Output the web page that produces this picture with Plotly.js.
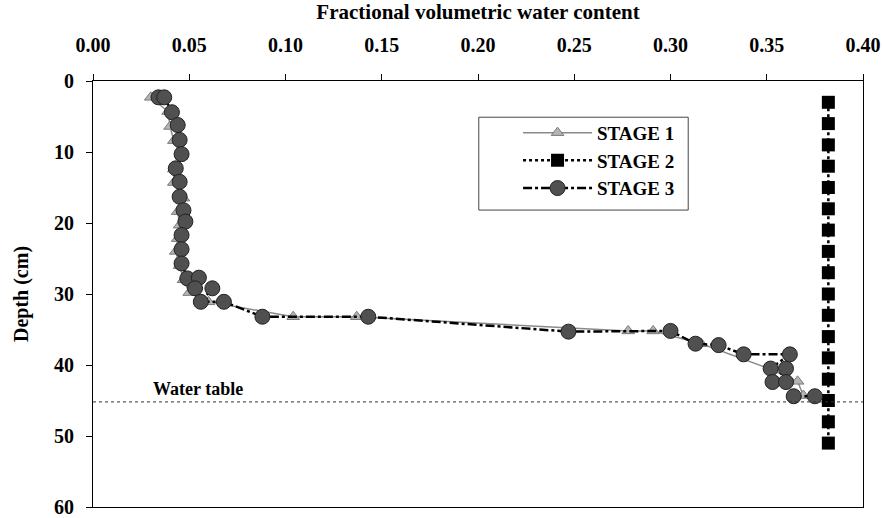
<!DOCTYPE html>
<html>
<head>
<meta charset="utf-8">
<script src="https://cdn.plot.ly/plotly-3.0.1.min.js"></script>
<style>html,body{margin:0;padding:0;background:#fff;}#chart{width:883px;height:518px;}</style>
</head>
<body>
<div id="chart"></div>
<script>
// Stage 1 (triangles)
var stage1Water = [0.030, 0.039, 0.040, 0.042, 0.046, 0.042, 0.042, 0.047, 0.044, 0.045, 0.044, 0.043, 0.045, 0.047, 0.050, 0.060, 0.104, 0.137, 0.278, 0.291, 0.316, 0.353, 0.366, 0.369];
var stage1Depth = [2.3, 4.3, 6.4, 8.4, 10.6, 12.4, 14.3, 16.5, 18.4, 20.3, 22.2, 24.0, 26.0, 28.0, 29.8, 31.1, 33.2, 33.2, 35.2, 35.2, 37.0, 40.7, 42.3, 44.3];
// Stage 2 (squares)
var stage2Water = [0.382, 0.382, 0.382, 0.382, 0.382, 0.382, 0.382, 0.382, 0.382, 0.382, 0.382, 0.382, 0.382, 0.382, 0.382, 0.382, 0.382];
var stage2Depth = [3, 6, 9, 12, 15, 18, 21, 24, 27, 30, 33, 36, 39, 42, 45, 48, 51];
// Stage 3 (circles)
var stage3Water = [0.034, 0.037, 0.041, 0.044, 0.045, 0.046, 0.043, 0.045, 0.045, 0.047, 0.048, 0.046, 0.046, 0.046, 0.049, 0.055, 0.053, 0.062, 0.056, 0.068, 0.088, 0.143, 0.247, 0.300, 0.313, 0.325, 0.338, 0.362, 0.352, 0.360, 0.353, 0.360, 0.364, 0.375];
var stage3Depth = [2.3, 2.3, 4.4, 6.2, 8.3, 10.3, 12.3, 14.2, 16.3, 18.2, 19.8, 21.7, 23.7, 25.7, 27.8, 27.7, 29.2, 29.2, 31.1, 31.1, 33.2, 33.2, 35.3, 35.2, 37.0, 37.2, 38.5, 38.5, 40.5, 40.5, 42.4, 42.4, 44.4, 44.4];
var waterTableDepth = 45.2;
var xTicks = [0, 0.05, 0.10, 0.15, 0.20, 0.25, 0.30, 0.35, 0.40];
var xTickLabels = ["0.00", "0.05", "0.10", "0.15", "0.20", "0.25", "0.30", "0.35", "0.40"];
var yTicks = [0, 10, 20, 30, 40, 50, 60];
var seriesNames = ["STAGE 1", "STAGE 2", "STAGE 3"];

var serif = "Liberation Serif, Times New Roman, serif";

var traces = [
  {
    x: stage1Water, y: stage1Depth, name: seriesNames[0], mode: "lines+markers",
    line: {color: "#8a8a8a", width: 1.5},
    marker: {symbol: "triangle-up", size: 11, color: "#b4b4b4", line: {color: "#7a7a7a", width: 1}}
  },
  {
    x: stage2Water, y: stage2Depth, name: seriesNames[1], mode: "lines+markers",
    line: {color: "#000", width: 2.5, dash: "dot"},
    marker: {symbol: "square", size: 13, color: "#000", line: {color: "#000", width: 0}}
  },
  {
    x: stage3Water, y: stage3Depth, name: seriesNames[2], mode: "lines+markers",
    line: {color: "#000", width: 2.5, dash: "dashdot"},
    marker: {symbol: "circle", size: 15, color: "#505050", line: {color: "#222", width: 1}}
  }
];

var layout = {
  width: 883, height: 518,
  margin: {l: 93, r: 20, t: 81, b: 11},
  paper_bgcolor: "#fff", plot_bgcolor: "#fff",
  showlegend: true,
  font: {family: serif, color: "#000"},
  title: {text: ""},
  xaxis: {
    side: "top", range: [0, 0.4], tickvals: xTicks, ticktext: xTickLabels,
    ticks: "outside", ticklen: 6, tickcolor: "#000", tickwidth: 1,
    showline: true, linecolor: "#000", linewidth: 1, mirror: true,
    showgrid: false, zeroline: false,
    tickfont: {family: serif, size: 20, color: "#000", weight: "bold"},
    ticklabelstandoff: 14,
    title: {text: "Fractional volumetric water content", font: {family: serif, size: 21, color: "#000", weight: "bold"}, standoff: 8}
  },
  xaxis2: {
    overlaying: "x", anchor: "y", side: "top", range: [0, 0.4], tickvals: xTicks,
    ticks: "inside", ticklen: 6, tickcolor: "#000", showticklabels: false,
    showline: false, showgrid: false, zeroline: false
  },
  yaxis: {
    range: [60, 0], tickvals: yTicks,
    ticks: "outside", ticklen: 6, tickcolor: "#000", tickwidth: 1,
    showline: true, linecolor: "#000", linewidth: 1, mirror: true,
    showgrid: false, zeroline: false,
    tickfont: {family: serif, size: 20, color: "#000", weight: "bold"},
    ticklabelstandoff: 8,
    title: {text: "Depth (cm)", font: {family: serif, size: 20, color: "#000", weight: "bold"}, standoff: 20}
  },
  yaxis2: {
    overlaying: "y", anchor: "x", side: "left", range: [60, 0], tickvals: yTicks,
    ticks: "inside", ticklen: 6, tickcolor: "#000", showticklabels: false,
    showline: false, showgrid: false, zeroline: false
  },
  legend: {
    x: 0.552, y: 0.923, xanchor: "left", yanchor: "top",
    borderwidth: 0, bgcolor: "rgba(0,0,0,0)",
    font: {family: serif, size: 19, color: "#000", weight: "bold"},
    itemwidth: 69, tracegroupgap: 0
  },
  shapes: [
    {type: "rect", xref: "paper", yref: "paper", x0: 0.501, x1: 0.773, y0: 0.697, y1: 0.915,
     line: {color: "#444", width: 1}, fillcolor: "#fff", layer: "below"},
    {type: "line", xref: "paper", x0: 0, x1: 1, yref: "y", y0: waterTableDepth, y1: waterTableDepth,
     line: {color: "#333", width: 1, dash: "dot"}}
  ],
  annotations: [
    {text: "Water table", xref: "x", x: 0.0545, yref: "y", y: waterTableDepth,
     yanchor: "bottom", xanchor: "center", yshift: 1, showarrow: false,
     font: {family: serif, size: 18, color: "#000", weight: "bold"}}
  ]
};

Plotly.newPlot("chart", traces, layout, {displayModeBar: false, staticPlot: true});
</script>
</body>
</html>
